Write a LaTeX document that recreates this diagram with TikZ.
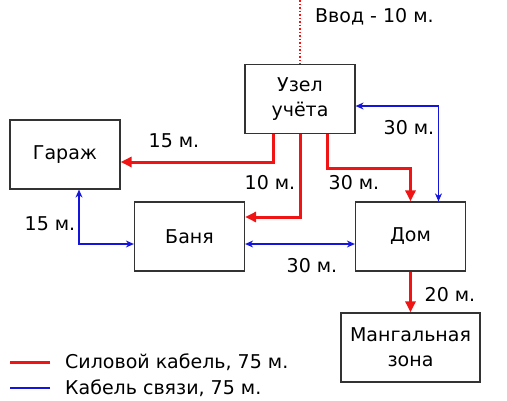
\documentclass[tikz,border=0pt]{standalone}
\usepackage{fontspec}
\setmainfont{DejaVu Sans}
\usetikzlibrary{arrows.meta}
\definecolor{pwr}{RGB}{240,20,20}
\definecolor{com}{RGB}{20,20,220}
\begin{document}
\begin{tikzpicture}[x=1pt,y=-1pt,
  box/.style={draw=black!80,line width=1.2pt,minimum width=110pt,minimum height=69pt,inner sep=0pt,align=center,font=\fontsize{19}{25}\selectfont},
  pline/.style={pwr,line width=3pt,-{Triangle[length=11pt,width=10pt]}},
  cline/.style={com,line width=1.2pt,{Stealth[length=8pt,width=7pt]}-{Stealth[length=8pt,width=7pt]}},
  lbl/.style={font=\fontsize{19}{23}\selectfont,inner sep=0pt}]
\useasboundingbox (0,0) rectangle (507,400);
\node[box] (uz) at (300,99) {Узел\\учёта};
\node[box] (gar) at (65,154.5) {Гараж};
\node[box] (ban) at (189.5,236.5) {Баня};
\node[box] (dom) at (410.5,236.5) {Дом};
\node[box,minimum width=139pt] (man) at (410.5,347.5) {Мангальная\\зона};
\coordinate (top) at (300,0);
\draw[pwr,line width=1.5pt,dotted] (top) -- (uz.north);
\node[lbl,anchor=west] (vvod) at (315,17) {Ввод - 10 м.};
% power
\draw[pline] ([xshift=-27pt]uz.south) |- (gar.east |- 0,162);
\draw[pline] (uz.south) |- (ban.east |- 0,217);
\draw[pline] ([xshift=27pt]uz.south) |- (368,168) -| (dom.north);
\draw[pline] (dom.south) -- (man.north);
% comm
\draw[cline] (uz.east |- 0,106) -| ([xshift=28pt]dom.north);
\draw[cline] ([xshift=14pt]gar.south) |- (ban.west |- 0,244);
\draw[cline] (ban.east |- 0,244) -- (dom.west |- 0,244);
% labels
\node[lbl] (l1) at (174,141) {15 м.};
\node[lbl] (l2) at (270,183) {10 м.};
\node[lbl] (l3) at (354,183) {30 м.};
\node[lbl] (l4) at (409,128) {30 м.};
\node[lbl] (l5) at (50,224) {15 м.};
\node[lbl] (l6) at (312,266) {30 м.};
\node[lbl] (l7) at (450,295) {20 м.};
% legend
\coordinate (r1) at (10,362); \coordinate (r2) at (50,362);
\draw[pwr,line width=3pt] (r1) -- (r2);
\node[lbl,anchor=west] (lg1) at (65,362) {Силовой кабель, 75 м.};
\coordinate (b1) at (10,388); \coordinate (b2) at (50,388);
\draw[com,line width=1.2pt] (b1) -- (b2);
\node[lbl,anchor=west] (lg2) at (65,388) {Кабель связи, 75 м.};
\end{tikzpicture}
\end{document}
